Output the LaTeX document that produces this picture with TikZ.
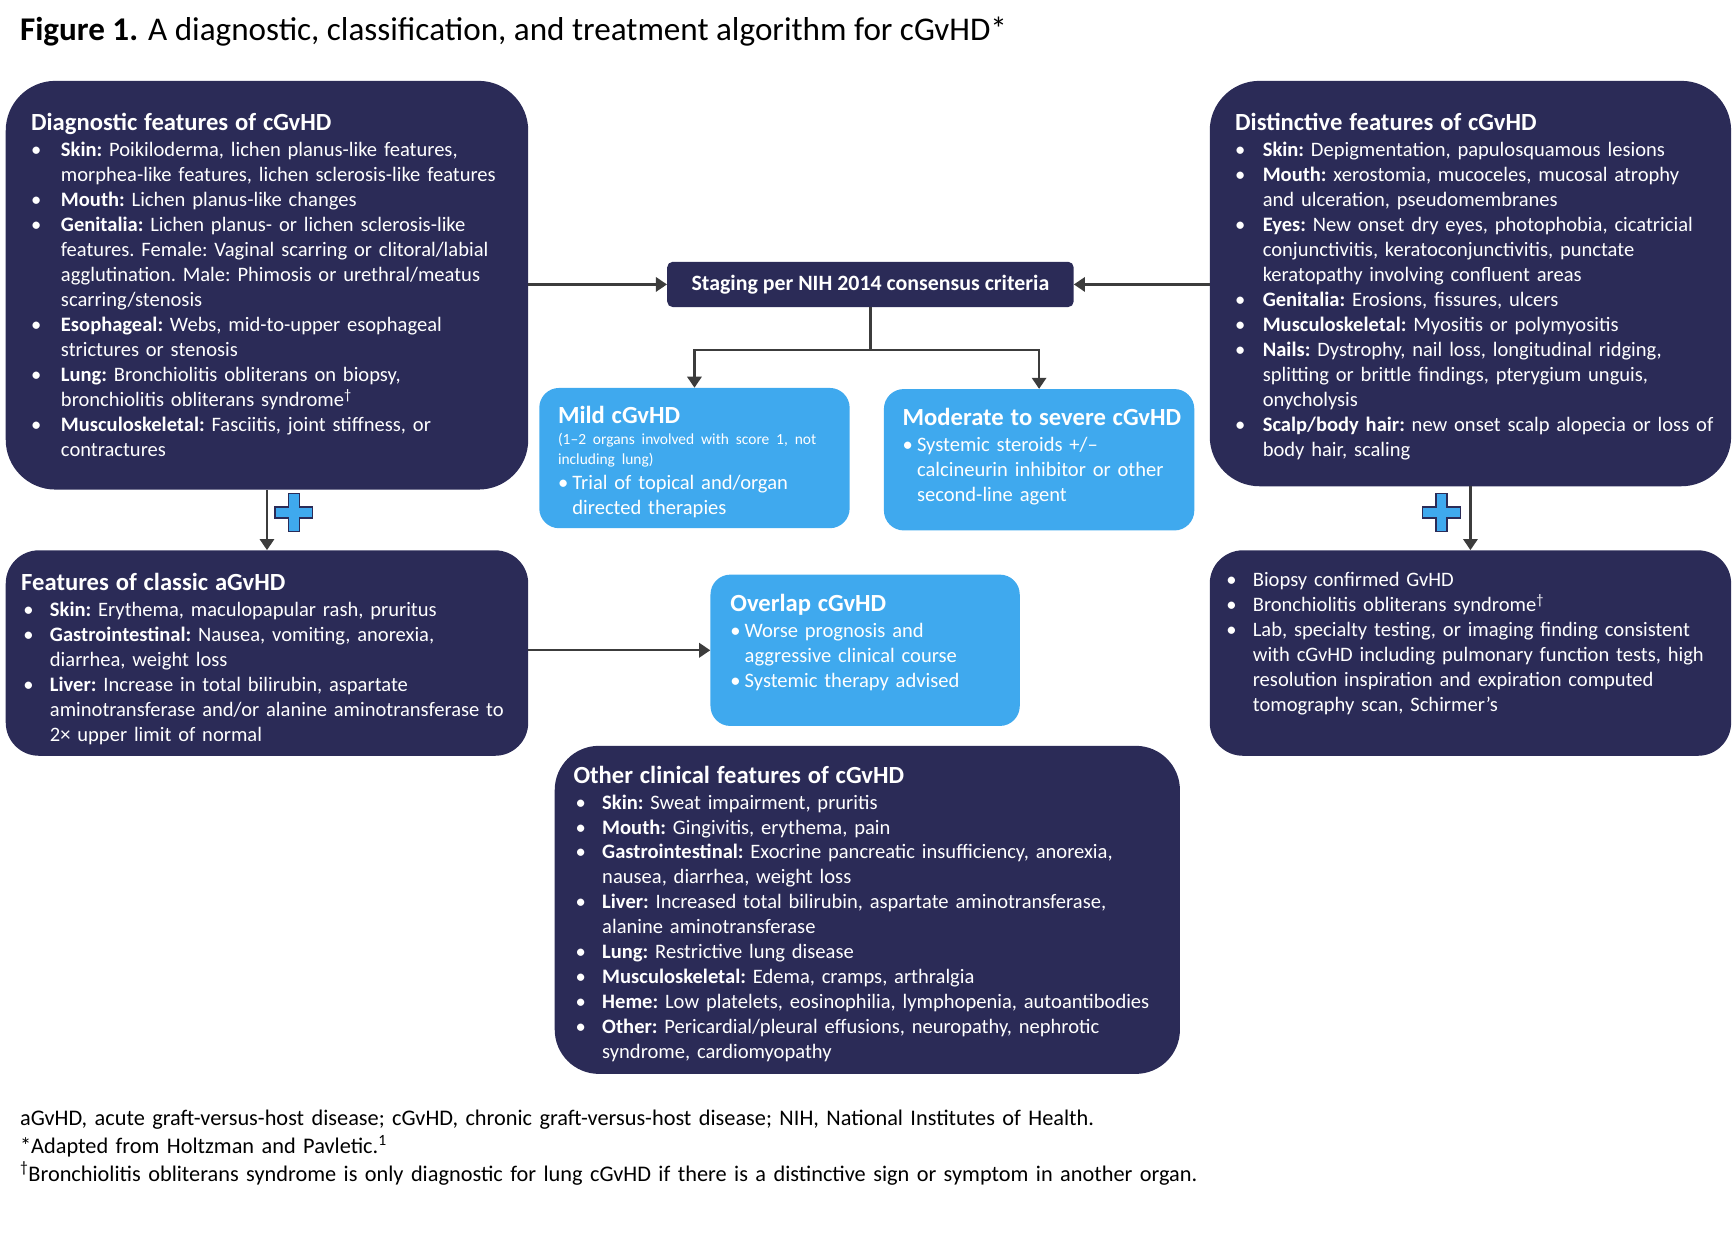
\documentclass[tikz,border=0pt]{standalone}
\usepackage{fontspec}
\setmainfont{Carlito}
\usepackage{xcolor}
\usetikzlibrary{arrows.meta}
\definecolor{navy}{HTML}{2B2B57}
\definecolor{skyblue}{HTML}{3FA9EE}
\definecolor{linegray}{HTML}{3C3C3C}
\newlength\bpre
\newlength\bind
\newcommand{\bitem}[1]{\par\noindent\hangindent=\bind\hangafter=1\makebox[\bind][l]{\hspace{\bpre}\textbullet}#1}
\newcommand{\hd}[1]{{\fontsize{22.3}{24}\selectfont\bfseries #1}\par\vspace{1pt}}
\begin{document}
\begin{tikzpicture}[x=1pt,y=1pt]
\tikzstyle{every node}+=[inner sep=0pt]
\tikzstyle{darkbox}=[fill=navy, anchor=north west]
\tikzstyle{bluebox}=[fill=skyblue, anchor=north west, rounded corners=18pt]
\tikzstyle{boxtext}=[anchor=north west, text=white, font=\fontsize{18.6}{22.6}\selectfont\frenchspacing\raggedright]
\tikzstyle{flow}=[draw=linegray, line width=2pt, -{Triangle[width=13pt,length=10pt]}]
\tikzstyle{plus}=[fill=skyblue, draw=navy, line width=1.2pt]
\useasboundingbox (0,0) rectangle (1568,-1125);
\node [anchor=base west, font=\fontsize{30}{34}\selectfont] (title) at (18,-37) {\textbf{Figure 1.} A diagnostic, classification, and treatment algorithm for cGvHD*};
\node [darkbox, rounded corners=45pt, minimum width=473pt, minimum height=370pt] (diag) at (5,-73) {};
\node [boxtext, text width=445pt] (diagtxt) at (28,-102.5) {\setlength\bpre{0pt}\setlength\bind{27pt}\hd{Diagnostic features of cGvHD}
\bitem{\textbf{Skin:} Poikiloderma, lichen planus-like features,\newline morphea-like features, lichen sclerosis-like features}
\bitem{\textbf{Mouth:} Lichen planus-like changes}
\bitem{\textbf{Genitalia:} Lichen planus- or lichen sclerosis-like\newline features. Female: Vaginal scarring or clitoral/labial\newline agglutination. Male: Phimosis or urethral/meatus\newline scarring/stenosis}
\bitem{\textbf{Esophageal:} Webs, mid-to-upper esophageal\newline strictures or stenosis}
\bitem{\textbf{Lung:} Bronchiolitis obliterans on biopsy,\newline bronchiolitis obliterans syndrome\textsuperscript{†}}
\bitem{\textbf{Musculoskeletal:} Fasciitis, joint stiffness, or\newline contractures}\par};
\node [darkbox, rounded corners=45pt, minimum width=472pt, minimum height=367pt] (dist) at (1095,-73) {};
\node [boxtext, text width=445pt] (disttxt) at (1118,-102.5) {\setlength\bpre{0pt}\setlength\bind{25pt}\hd{Distinctive features of cGvHD}
\bitem{\textbf{Skin:} Depigmentation, papulosquamous lesions}
\bitem{\textbf{Mouth:} xerostomia, mucoceles, mucosal atrophy\newline and ulceration, pseudomembranes}
\bitem{\textbf{Eyes:} New onset dry eyes, photophobia, cicatricial\newline conjunctivitis, keratoconjunctivitis, punctate\newline keratopathy involving confluent areas}
\bitem{\textbf{Genitalia:} Erosions, fissures, ulcers}
\bitem{\textbf{Musculoskeletal:} Myositis or polymyositis}
\bitem{\textbf{Nails:} Dystrophy, nail loss, longitudinal ridging,\newline splitting or brittle findings, pterygium unguis,\newline onycholysis}
\bitem{\textbf{Scalp/body hair:} new onset scalp alopecia or loss of\newline body hair, scaling}\par};
\node [fill=navy, rounded corners=5pt, minimum width=368pt, minimum height=41pt, text=white, font=\fontsize{19.8}{22}\selectfont\bfseries] (stage) at (788,-257.5) {Staging per NIH 2014 consensus criteria};
\node [bluebox, minimum width=281pt, minimum height=127pt] (mild) at (488,-351) {};
\node [boxtext, text width=262pt] (mildtxt) at (505,-367.5) {\setlength\bpre{0pt}\setlength\bind{13pt}\hd{Mild cGvHD}
{\fontsize{14}{18}\selectfont (1--2 organs involved with score 1, not\newline including lung)\par}
\bitem{Trial of topical and/organ\newline directed therapies}\par};
\node [bluebox, minimum width=281pt, minimum height=128pt] (moderate) at (800,-352) {};
\node [boxtext, text width=262pt] (moderatetxt) at (817,-369.5) {\setlength\bpre{0pt}\setlength\bind{13pt}\hd{Moderate to severe cGvHD}
\bitem{Systemic steroids +/--\newline calcineurin inhibitor or other\newline second-line agent}\par};
\node [darkbox, rounded corners=30pt, minimum width=473pt, minimum height=186pt] (classic) at (5,-498) {};
\node [boxtext, text width=455pt] (classictxt) at (19,-518.5) {\setlength\bpre{2pt}\setlength\bind{26pt}\hd{Features of classic aGvHD}
\bitem{\textbf{Skin:} Erythema, maculopapular rash, pruritus}
\bitem{\textbf{Gastrointestinal:} Nausea, vomiting, anorexia,\newline diarrhea, weight loss}
\bitem{\textbf{Liver:} Increase in total bilirubin, aspartate\newline aminotransferase and/or alanine aminotransferase to\newline 2× upper limit of normal}\par};
\node [bluebox, minimum width=280pt, minimum height=137pt] (overlap) at (643,-520) {};
\node [boxtext, text width=260pt] (overlaptxt) at (661,-537.5) {\setlength\bpre{0pt}\setlength\bind{13pt}\hd{Overlap cGvHD}
\bitem{Worse prognosis and\newline aggressive clinical course}
\bitem{Systemic therapy advised}\par};
\node [darkbox, rounded corners=30pt, minimum width=472pt, minimum height=186pt] (biopsy) at (1095,-498) {};
\node [boxtext, text width=450pt] (biopsytxt) at (1108,-508) {\setlength\bpre{2pt}\setlength\bind{26pt}
\bitem{Biopsy confirmed GvHD}
\bitem{Bronchiolitis obliterans syndrome\textsuperscript{†}}
\bitem{Lab, specialty testing, or imaging finding consistent\newline with cGvHD including pulmonary function tests, high\newline resolution inspiration and expiration computed\newline tomography scan, Schirmer’s}\par};
\node [darkbox, rounded corners=40pt, minimum width=566pt, minimum height=297pt] (other) at (502,-675) {};
\node [boxtext, text width=545pt] (othertxt) at (519,-693) {\setlength\bpre{2pt}\setlength\bind{26pt}\hd{Other clinical features of cGvHD}
\bitem{\textbf{Skin:} Sweat impairment, pruritis}
\bitem{\textbf{Mouth:} Gingivitis, erythema, pain}
\bitem{\textbf{Gastrointestinal:} Exocrine pancreatic insufficiency, anorexia,\newline nausea, diarrhea, weight loss}
\bitem{\textbf{Liver:} Increased total bilirubin, aspartate aminotransferase,\newline alanine aminotransferase}
\bitem{\textbf{Lung:} Restrictive lung disease}
\bitem{\textbf{Musculoskeletal:} Edema, cramps, arthralgia}
\bitem{\textbf{Heme:} Low platelets, eosinophilia, lymphopenia, autoantibodies}
\bitem{\textbf{Other:} Pericardial/pleural effusions, neuropathy, nephrotic\newline syndrome, cardiomyopathy}\par};
\draw [flow] (diag.east |- stage.west) -- (stage.west);
\draw [flow] (dist.west |- stage.east) -- (stage.east);
\draw [flow] (stage.south) -- ++(0,-39) -| (mild.north);
\draw [flow] (stage.south) -- ++(0,-39) -| (moderate.north);
\draw [flow] (diag.south) -- (classic.north);
\draw [flow] (dist.south) -- (biopsy.north);
\draw [flow] (classic.east |- overlap.west) -- (overlap.west);
\draw [plus] (261,-447) -- (271,-447) -- (271,-459) -- (283,-459) -- (283,-469) -- (271,-469) -- (271,-481) -- (261,-481) -- (261,-469) -- (249,-469) -- (249,-459) -- (261,-459) -- cycle;
\draw [plus] (1300,-447) -- (1310,-447) -- (1310,-459) -- (1322,-459) -- (1322,-469) -- (1310,-469) -- (1310,-481) -- (1300,-481) -- (1300,-469) -- (1288,-469) -- (1288,-459) -- (1300,-459) -- cycle;
\node [anchor=north west, text width=1300pt, font=\fontsize{20.2}{25}\selectfont\frenchspacing\raggedright] (notes) at (18,-1005) {aGvHD, acute graft-versus-host disease; cGvHD, chronic graft-versus-host disease; NIH, National Institutes of Health.\newline
*Adapted from Holtzman and Pavletic.\textsuperscript{1}\newline
\textsuperscript{†}Bronchiolitis obliterans syndrome is only diagnostic for lung cGvHD if there is a distinctive sign or symptom in another organ.\par};
\end{tikzpicture}
\end{document}
